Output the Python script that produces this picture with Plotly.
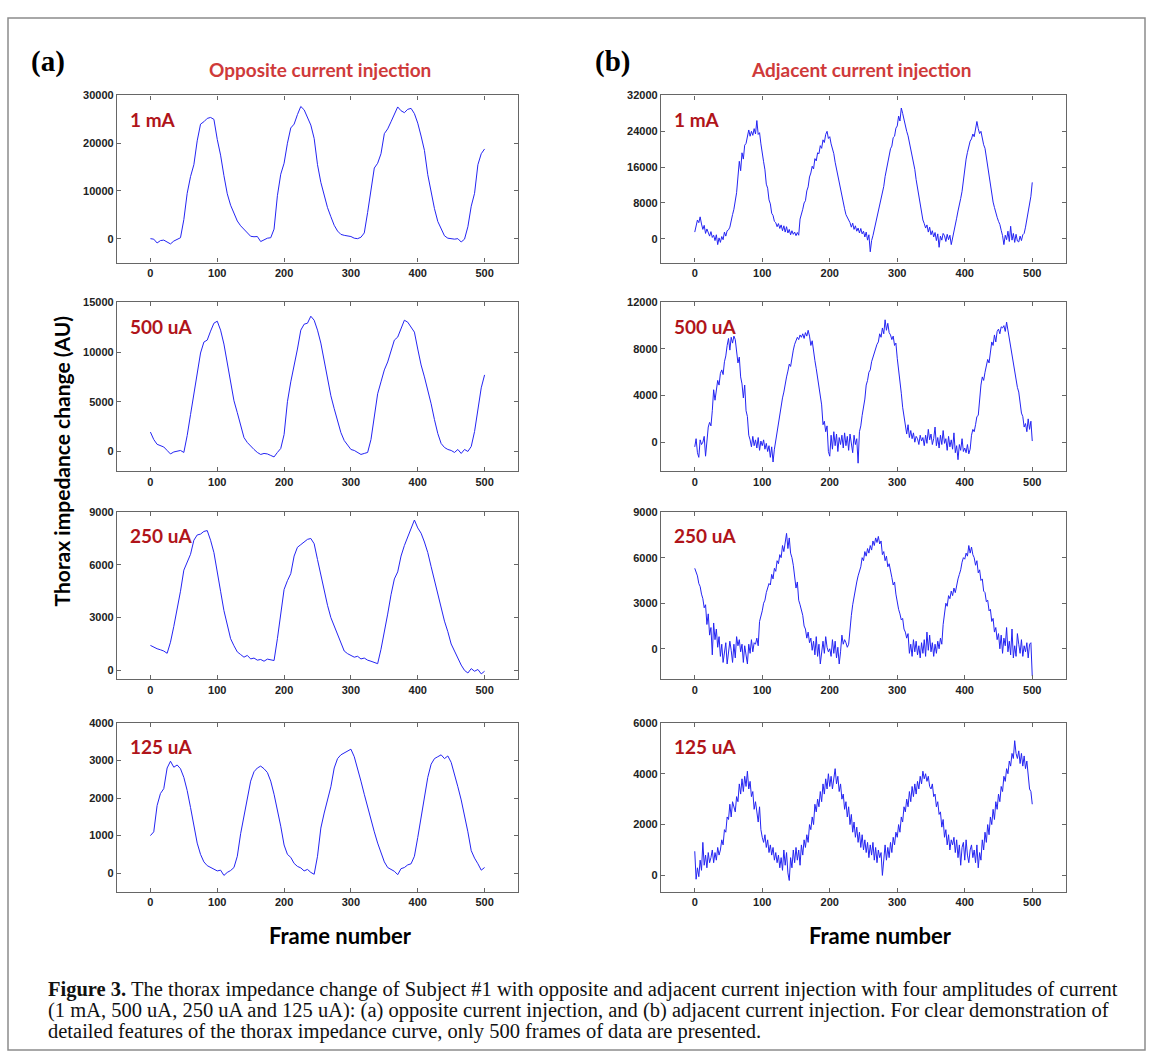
import plotly.graph_objects as go

W, H = 1153, 1057

# ---------------- data ----------------
frames_left = list(range(0, 501, 5))
frames_right = list(range(0, 501, 2))

opp_1mA = [
    0, -100, -900, -400, -300, -700, -1100, -500, -100, 200,
    4000, 9500, 13000, 15500, 20500, 24000, 24500, 25200, 25400, 25000,
    20800, 17500, 13200, 9400, 7000, 5200, 3700, 2700, 1900, 1300,
    500, 400, 450, -600, -200, 100, 200, 2000, 9000, 13500,
    15800, 20000, 23200, 24000, 26000, 27700, 27000, 25400, 23800, 21000,
    15500, 11800, 9200, 6500, 4600, 2800, 1600, 900, 700, 600,
    450, 100, 0, 300, 1200, 5500, 10500, 14800, 15800, 17800,
    22000, 23000, 24500, 26200, 27600, 26800, 26400, 27100, 27300, 26200,
    24200, 21500, 18500, 13400, 9500, 6300, 3600, 2000, 600, 100,
    0, -100, 0, -700, -100, 2500, 6800, 9500, 15500, 17800,
    18800]

opp_500uA = [
    1950, 1200, 720, 550, 450, 100, -250, -50, 0, 100,
    -100, 1600, 3700, 5900, 8000, 9900, 11000, 11200, 12100, 12900,
    13100, 12200, 10800, 8900, 6700, 5100, 3900, 2500, 1400, 900,
    500, 200, -100, -300, -200, -250, -400, -550, -100, 300,
    1700, 5000, 7000, 8600, 10300, 12200, 12800, 12900, 13600, 13200,
    12200, 10900, 9000, 7400, 5600, 4300, 3000, 1900, 1100, 600,
    200, 100, -100, -300, -200, -100, 1200, 3500, 5800, 7000,
    8200, 9000, 10000, 11200, 11500, 12300, 13200, 13000, 12500, 12000,
    10300, 8700, 7500, 6200, 4800, 3200, 1800, 800, 400, 200,
    100, -100, 200, -200, 200, 0, 500, 2000, 4000, 6400,
    7700]

opp_250uA = [
    1420, 1300, 1230, 1170, 1100, 970, 1600, 2500, 3400, 4500,
    5700, 6200, 6600, 7400, 7700, 7750, 7900, 7950, 7400, 6700,
    5500, 4500, 3400, 2600, 1800, 1400, 1050, 900, 750, 850,
    650, 700, 580, 620, 520, 640, 590, 560, 1800, 3300,
    4600, 5100, 5500, 6500, 7000, 7150, 7300, 7450, 7500, 7200,
    6300, 5400, 4600, 3700, 3000, 2500, 2100, 1500, 1100, 950,
    850, 750, 800, 650, 700, 580, 520, 470, 380, 1200,
    2100, 3200, 4300, 5200, 5600, 6500, 7100, 7600, 8000, 8550,
    8100, 7800, 7300, 6700, 5900, 5100, 4300, 3500, 2800, 2200,
    1500, 1100, 700, 300, 0, -150, 100, -50, 50, -200,
    -50]

opp_125uA = [
    1000, 1100, 1800, 2120, 2250, 2800, 2980, 2820, 2880, 2780,
    2550, 2200, 1750, 1250, 800, 500, 300, 200, 150, 120,
    60, 80, -60, 20, 70, 150, 450, 1050, 1500, 2050,
    2450, 2700, 2800, 2850, 2780, 2680, 2450, 2100, 1700, 1250,
    750, 500, 420, 260, 180, 140, 60, 100, 20, -30,
    450, 1200, 1600, 1950, 2300, 2800, 3050, 3150, 3200, 3250,
    3300, 3100, 2800, 2450, 2100, 1750, 1400, 1100, 800, 550,
    300, 150, 100, 50, -40, 120, 150, 220, 250, 450,
    950, 1450, 2000, 2550, 2900, 3050, 3100, 3150, 3050, 3120,
    2950, 2650, 2300, 1950, 1550, 1100, 600, 400, 250, 80,
    150]

adj_1mA = [
    1500, 2800, 4200, 3600, 4900, 3300, 2100, 3000, 1200, 2200, 1500, 600, 1600, 300, 800, -400, 900, -1300, 200, -800, 500, -200, 1500, 600, 1800,
    2000, 2600, 3700, 5400, 6600, 8400, 10300, 13800, 17300, 15200, 19200, 17800, 20900, 21300, 22700, 24300, 22900, 24000, 23100, 24600, 23400, 26400, 23300, 23700, 21200,
    19600, 17200, 15400, 12200, 11300, 8700, 7800, 5700, 5200, 3900, 3600, 2700, 3400, 2300, 3100, 1800, 2900, 1500, 2700, 1300, 2100, 900, 1800, 1000, 1500,
    700, 1400, 800, 4400, 5400, 6600, 8000, 8500, 10700, 11600, 13800, 14700, 16200, 15600, 17900, 17400, 19200, 19000, 20800, 20200, 22100, 21500, 23300, 24000, 22400,
    22800, 21200, 20300, 19000, 17100, 15500, 14200, 12300, 10800, 9700, 7800, 6700, 5400, 4900, 4200, 3600, 2600, 3500, 2100, 2900, 1700, 2400, 1300, 2300, 1100,
    1700, 400, 1500, -300, 900, -2900, -400, 700, 2100, 3300, 5000, 5800, 7400, 8800, 10700, 11700, 13900, 15300, 17400, 18200, 20100, 20700, 22600, 22900, 24700,
    25200, 27400, 26300, 29200, 28000, 26500, 25200, 24000, 23000, 21500, 20600, 18800, 17200, 15500, 13200, 11500, 9400, 7600, 5500, 4200, 3400, 2400, 3100, 1500, 2600,
    900, 1800, 400, 1400, -400, 1100, -1900, 600, -300, 1200, 700, -600, 1000, -200, 800, -1300, 400, 1800, 3200, 4600, 6200, 7400, 9000, 10600, 13200,
    15800, 17800, 19300, 20500, 21800, 22300, 23400, 22800, 24800, 26200, 24600, 23500, 24000, 22200, 21000, 20200, 18100, 16200, 14000, 12000, 9800, 8200, 7000, 5600, 4800,
    3900, 3200, 1900, 700, -1300, 800, -200, 1700, -600, 2800, -300, 1200, -800, 1000, -500, -700, 600, -400, 900, 1200, 2600, 4200, 6100, 7800, 9500, 12600]

adj_500uA = [
    -400, 300, -900, -1300, 200, -200, 0, 500, -1200, 400, 1300, 1700, 1400, 2700, 4500, 3600, 4700, 5300, 4900, 5900, 6200, 5800, 6900, 7400, 8300,
    8900, 7900, 9000, 8500, 9100, 8800, 7600, 6800, 7300, 5600, 5000, 3800, 4900, 2700, 2200, 600, 200, -400, 500, -300, 200, -500, 400, -700, 100,
    -300, 200, -600, -100, -800, -300, -1300, -400, -1700, -600, 200, 700, 1500, 2400, 3200, 3800, 4300, 5200, 5600, 6100, 6700, 6500, 7400, 7900, 8400,
    8700, 9000, 8800, 9200, 9000, 9300, 8900, 9400, 9100, 9600, 9100, 8300, 8700, 7600, 7000, 6300, 5500, 4600, 3900, 3200, 1500, 1800, 900, 1400, -800,
    -1200, 600, -600, 900, -300, 700, -800, 400, -200, 600, -500, 800, -300, 500, -700, 700, 0, -900, 600, -200, 300, -1800, 900, 1400, 2300,
    3000, 3700, 4900, 5300, 6000, 6200, 6900, 7300, 7600, 8200, 8400, 8600, 9300, 9000, 9800, 9300, 10500, 9600, 10200, 9400, 9200, 8800, 9100, 8300, 8500,
    7200, 6300, 5100, 4200, 3000, 2200, 1800, 700, 1500, 400, 1000, 300, 800, 0, 500, 300, -200, 600, 100, 400, -300, 600, -100, 1100, 200,
    700, -200, 300, 1300, -300, 400, -500, 600, -200, 1000, -100, 300, -700, 500, -400, 200, -600, 800, -900, -300, -1500, -200, -700, 300, -800,
    -500, -900, -200, -1000, -600, 600, 1100, 900, 1500, 2200, 2300, 3700, 4900, 5600, 5300, 6000, 6600, 7100, 6800, 8000, 8600, 8300, 9200, 8600, 9500,
    9700, 9300, 9900, 9800, 10000, 9500, 10300, 9600, 8800, 8400, 7600, 6900, 6000, 5600, 4700, 4300, 3200, 2500, 2200, 1300, 1600, 900, 2000, 1100, 1800, 100]

adj_250uA = [
    5300, 5000, 4800, 4300, 4100, 3600, 3300, 2700, 2900, 1600, 2300, 900, 1400, -400, 1700, 600, 1300, 100, 800, -500, 300, -900, -100, 400, -1000,
    -300, 500, -100, -900, 300, -600, 800, 200, 600, -200, 300, -900, 200, -400, -1000, 300, -300, 600, -200, 400, 300, 700, 200, 1800, 2100,
    2500, 3000, 3200, 3700, 4000, 4300, 4200, 4900, 4600, 5300, 5100, 5800, 5600, 6200, 6000, 6800, 6400, 7100, 7600, 6600, 7300, 6300, 6000, 5500, 4700,
    4000, 4400, 3200, 2900, 2500, 2200, 1500, 1300, 700, 1100, 400, 700, -100, 500, -400, 800, -500, 300, -1000, -200, 500, -300, 800, 100, -200,
    0, -500, 600, -300, 500, -600, 100, -1000, -200, 900, 300, 600, 400, 100, 300, 1500, 2200, 2900, 3500, 4000, 4400, 4800, 5100, 5400, 6000,
    5800, 6400, 6100, 6600, 6300, 6800, 6500, 7100, 6800, 7300, 7000, 7400, 6900, 7100, 6200, 6400, 5800, 6100, 5400, 5600, 5000, 4700, 4200, 4400, 3600,
    3000, 2600, 2300, 1900, 2000, 1300, 1100, 700, 1000, -300, 300, -500, 600, -200, 500, -400, 200, -600, 400, -300, 600, -500, 1100, -100, 900,
    -200, 400, -500, 300, -300, 500, 0, 700, 300, 1600, 2200, 3000, 2800, 3500, 3300, 3800, 3500, 4000, 3700, 4300, 4600, 4900, 5200, 5700, 6000,
    5900, 6300, 6100, 6800, 6300, 6700, 6200, 6000, 5500, 5800, 5000, 5200, 4500, 4600, 3800, 3700, 3100, 3200, 2500, 2600, 1800, 2000, 1100, 1400, 600,
    1000, 0, 900, -300, 700, 200, 1400, -200, 500, -400, 1300, -600, 200, -500, 1000, 300, -300, 600, -500, 200, -200, 400, -600, 300, 400, -1800]

adj_125uA = [
    950, -150, 300, -50, 600, 200, 1300, 400, 800, 300, 900, 500, 700, 1000, 500, 900, 600, 1100, 800, 1000, 1400, 1200, 1800, 1700, 2300,
    2200, 2800, 2300, 2900, 2700, 2500, 3100, 2900, 3600, 3200, 3800, 3300, 3900, 3500, 4100, 3400, 3700, 3100, 3300, 2600, 2900, 2400, 2100, 2700, 1800,
    1500, 1300, 1600, 1100, 1400, 900, 1200, 800, 1100, 600, 900, 500, 800, 300, 700, 200, 1000, 400, 900, 100, -200, 700, 300, 1000, 500,
    1100, 600, 1000, 400, 1200, 800, 1400, 1100, 1600, 1300, 2000, 1800, 2300, 2000, 2800, 2500, 3000, 2700, 3300, 2900, 3600, 3200, 3800, 3400, 4000,
    3500, 3900, 3400, 3800, 4200, 3600, 3900, 3300, 3600, 3000, 3200, 2600, 2900, 2300, 2700, 2000, 2400, 1700, 2100, 1500, 1900, 1300, 1700, 1100, 1600,
    1000, 1400, 900, 1300, 700, 1200, 800, 1300, 600, 1100, 500, 1000, 700, 900, 0, 800, 1200, 600, 1100, 700, 1300, 900, 1500, 1200, 1700,
    1500, 2000, 1700, 2300, 2100, 2700, 2500, 3000, 2700, 3300, 2900, 3500, 3100, 3600, 3200, 3700, 3400, 3900, 3600, 4100, 3800, 4000, 3700, 3900, 3500,
    3400, 3600, 3100, 3200, 2700, 2900, 2400, 2500, 1900, 2200, 1500, 1800, 1200, 1600, 1000, 1400, 1200, 1500, 900, 1400, 700, 1200, 400, 1100, 1300,
    600, 1400, 800, 500, 1000, 1200, 700, 1000, 500, 1200, 300, 900, 600, 1400, 1000, 1700, 1300, 2000, 1600, 2300, 2000, 2600, 2200, 2900, 2600,
    3200, 2900, 3500, 3300, 3900, 3700, 4200, 4000, 4500, 4300, 4800, 4600, 5300, 4800, 4600, 4900, 4400, 4800, 4300, 4700, 4200, 4500, 3900, 3400, 3300, 2800]

current_labels = ["1 mA", "500 uA", "250 uA", "125 uA"]
x_ticks = [0, 100, 200, 300, 400, 500]

left_ranges = [[-5000, 30000], [-2000, 15000], [-500, 9000], [-500, 4000]]
left_yticks = [[0, 10000, 20000, 30000], [0, 5000, 10000, 15000], [0, 3000, 6000, 9000], [0, 1000, 2000, 3000, 4000]]
right_ranges = [[-5300, 32000], [-2500, 12000], [-2000, 9000], [-650, 6000]]
right_yticks = [[0, 8000, 16000, 24000, 32000], [0, 4000, 8000, 12000], [0, 3000, 6000, 9000], [0, 2000, 4000, 6000]]

left_series = [opp_1mA, opp_500uA, opp_250uA, opp_125uA]
right_series = [adj_1mA, adj_500uA, adj_250uA, adj_125uA]

# ---------------- layout ----------------
col_px = [(117, 518), (661, 1066)]
row_px = [(90, 258), (298, 468), (509, 677), (721, 891)]

LINE_BLUE = "#2424f2"
AXIS_GREY = "#666666"
LABEL_RED = "#b0141a"
TITLE_RED = "#cf3a3a"

fig = go.Figure()
layout = dict(
    width=W, height=H,
    margin=dict(l=0, r=0, t=0, b=0),
    paper_bgcolor="white", plot_bgcolor="white",
    showlegend=False,
)

annotations = []
idx = 0
for c in range(2):
    for r in range(4):
        idx += 1
        xs = frames_left if c == 0 else frames_right
        ys = left_series[r] if c == 0 else right_series[r]
        yr = left_ranges[r] if c == 0 else right_ranges[r]
        yt = left_yticks[r] if c == 0 else right_yticks[r]
        xa = "x" if idx == 1 else "x%d" % idx
        ya = "y" if idx == 1 else "y%d" % idx
        fig.add_trace(go.Scatter(x=xs, y=ys, mode="lines", xaxis=xa, yaxis=ya,
                                 line=dict(color=LINE_BLUE, width=1), hoverinfo="skip"))
        x0, x1 = col_px[c]
        t, b = row_px[r]
        tickfont = dict(family="Liberation Sans, Arial", size=11, color="#222222", weight="bold")
        common = dict(showline=True, linecolor=AXIS_GREY, linewidth=1.3, mirror="ticks",
                      ticks="inside", ticklen=4, tickcolor=AXIS_GREY, tickwidth=1,
                      showgrid=False, zeroline=False, tickfont=tickfont, fixedrange=True)
        layout["xaxis" if idx == 1 else "xaxis%d" % idx] = dict(
            domain=[x0 / W, x1 / W], anchor=ya, range=[-50, 550],
            tickvals=x_ticks, ticktext=[str(v) for v in x_ticks], **common)
        layout["yaxis" if idx == 1 else "yaxis%d" % idx] = dict(
            domain=[1 - b / H, 1 - t / H], anchor=xa, range=yr,
            tickvals=yt, ticktext=[str(v) for v in yt], **common)
        annotations.append(dict(
            x=(x0 + 11) / W, y=1 - (t + 24) / H, xref="paper", yref="paper",
            xanchor="left", yanchor="middle", showarrow=False,
            text=current_labels[r],
            font=dict(family="Lato, Open Sans", size=19, color=LABEL_RED, weight="bold")))

# panel letters and column titles
annotations += [
    dict(x=48 / W, y=1 - 56 / H, text="(a)", xref="paper", yref="paper", showarrow=False,
         xanchor="center", yanchor="middle",
         font=dict(family="Liberation Serif", size=29, color="black", weight="bold")),
    dict(x=612 / W, y=1 - 56 / H, text="(b)", xref="paper", yref="paper", showarrow=False,
         xanchor="center", yanchor="middle",
         font=dict(family="Liberation Serif", size=29, color="black", weight="bold")),
    dict(x=320 / W, y=1 - 64 / H, text="Opposite current injection", xref="paper", yref="paper",
         showarrow=False, xanchor="center", yanchor="middle",
         font=dict(family="Lato, Open Sans", size=19, color=TITLE_RED, weight="bold")),
    dict(x=861 / W, y=1 - 64 / H, text="Adjacent current injection", xref="paper", yref="paper",
         showarrow=False, xanchor="center", yanchor="middle",
         font=dict(family="Lato, Open Sans", size=19, color=TITLE_RED, weight="bold")),
    dict(x=61 / W, y=1 - 458 / H, text="Thorax impedance change (AU)", xref="paper", yref="paper",
         showarrow=False, xanchor="center", yanchor="middle", textangle=-90,
         font=dict(family="Lato, Open Sans", size=21, color="black", weight="bold")),
    dict(x=340 / W, y=1 - 935 / H, text="Frame number", xref="paper", yref="paper",
         showarrow=False, xanchor="center", yanchor="middle",
         font=dict(family="Lato, Open Sans", size=22, color="black", weight="bold")),
    dict(x=880 / W, y=1 - 935 / H, text="Frame number", xref="paper", yref="paper",
         showarrow=False, xanchor="center", yanchor="middle",
         font=dict(family="Lato, Open Sans", size=22, color="black", weight="bold")),
]

caption_lines = [
    "<b>Figure 3.</b> The thorax impedance change of Subject #1 with opposite and adjacent current injection with four amplitudes of current",
    "(1 mA, 500 uA, 250 uA and 125 uA): (a) opposite current injection, and (b) adjacent current injection. For clear demonstration of",
    "detailed features of the thorax impedance curve, only 500 frames of data are presented.",
]
caption_y = [989, 1010, 1031]
for line, yy in zip(caption_lines, caption_y):
    annotations.append(dict(x=46 / W, y=1 - yy / H, text=line, xref="paper", yref="paper",
                            showarrow=False, xanchor="left", yanchor="middle",
                            font=dict(family="Liberation Serif", size=20.5, color="#111111")))

layout["annotations"] = annotations
layout["shapes"] = [dict(type="rect", xref="paper", yref="paper",
                         x0=8 / W, x1=1145 / W, y0=1 - 1050 / H, y1=1 - 12 / H,
                         line=dict(color="#8c8c8c", width=1.5), fillcolor="rgba(0,0,0,0)")]

fig.update_layout(**layout)
fig.write_html("out.html", config={"displayModeBar": False})
